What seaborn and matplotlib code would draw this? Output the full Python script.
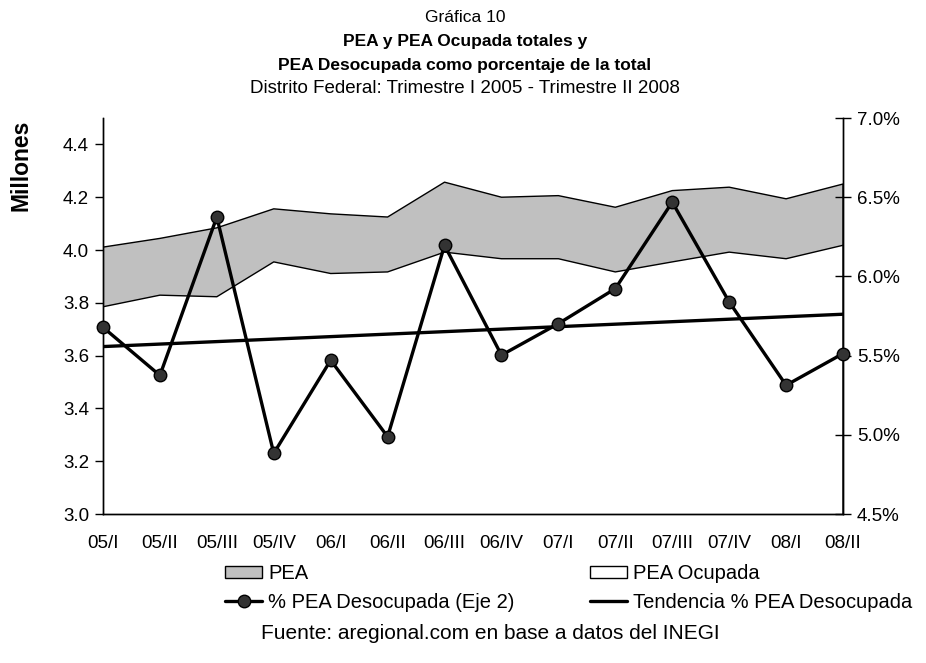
import numpy as np
import pandas as pd
import matplotlib
matplotlib.use('Agg')
import matplotlib.pyplot as plt
import seaborn as sns
from matplotlib.patches import Patch
from matplotlib.lines import Line2D
from matplotlib.ticker import FuncFormatter

# data
trimestres = ['05/I', '05/II', '05/III', '05/IV', '06/I', '06/II', '06/III',
              '06/IV', '07/I', '07/II', '07/III', '07/IV', '08/I', '08/II']
pea = [4.011, 4.044, 4.084, 4.156, 4.137, 4.125, 4.257,
       4.200, 4.206, 4.162, 4.225, 4.238, 4.194, 4.250]
pea_ocupada = [3.785, 3.829, 3.823, 3.955, 3.911, 3.917, 3.992,
               3.967, 3.967, 3.917, 3.955, 3.992, 3.967, 4.018]
pct_desocupada = [5.679, 5.375, 6.375, 4.883, 5.471, 4.988, 6.196,
                  5.503, 5.702, 5.923, 6.469, 5.839, 5.313, 5.513]

df = pd.DataFrame({'t': np.arange(len(trimestres)), 'pea': pea,
                   'ocupada': pea_ocupada, 'pct': pct_desocupada})

# linear trend of the unemployment share
coef = np.polyfit(df['t'], df['pct'], 1)
df['tendencia'] = np.polyval(coef, df['t'])

sns.set_style('white')
plt.rcParams['font.family'] = ['Liberation Sans', 'DejaVu Sans']
plt.rcParams['text.color'] = 'black'
plt.rcParams['xtick.color'] = 'black'
plt.rcParams['ytick.color'] = 'black'

fig = plt.figure(figsize=(9.26, 6.63), dpi=100)
ax = fig.add_axes([0.1112, 0.2247, 0.7992, 0.5973])

# stacked-area look: gray PEA, white PEA Ocupada in front
ax.fill_between(df['t'], 0, df['pea'], facecolor='#c0c0c0', edgecolor='black', linewidth=1.0, zorder=1)
ax.fill_between(df['t'], 0, df['ocupada'], facecolor='white', edgecolor='black', linewidth=1.0, zorder=2)

ax.set_xlim(0, 13)
ax.set_ylim(3.0, 4.5)
ax.set_yticks(np.arange(3.0, 4.41, 0.2))
ax.yaxis.set_major_formatter(FuncFormatter(lambda v, p: f'{v:.1f}'))
ax.set_xticks(df['t'])
ax.set_xticklabels(trimestres)
ax.tick_params(axis='both', labelsize=13.5, direction='out', length=6, width=1,
               colors='black', labelcolor='black', pad=4)
ax.tick_params(axis='x', pad=9)
ax.set_ylabel('')
ax.set_xlabel('')

ax2 = ax.twinx()
sns.lineplot(data=df, x='t', y='pct', ax=ax2, color='black', linewidth=2.4,
             marker='o', markersize=9, markerfacecolor='#333333', markeredgecolor='black',
             markeredgewidth=1.0, clip_on=False, zorder=5)
sns.lineplot(data=df, x='t', y='tendencia', ax=ax2, color='black', linewidth=2.4, zorder=4)
ax2.set_ylim(4.5, 7.0)
ax2.set_yticks(np.arange(4.5, 7.01, 0.5))
ax2.yaxis.set_major_formatter(FuncFormatter(lambda v, p: f'{v:.1f}%'))
ax2.tick_params(axis='y', labelsize=13.5, direction='inout', length=12, width=1,
                colors='black', labelcolor='black', pad=4)
ax2.set_ylabel('')
ax2.set_xlabel('')
ax2.set_xlim(0, 13)

for a in (ax, ax2):
    a.spines['top'].set_visible(False)
    for s in ('left', 'right', 'bottom'):
        a.spines[s].set_color('black')
        a.spines[s].set_linewidth(1.0)

# titles
cx = 0.502
fig.text(cx, 0.973, 'Gráfica 10', ha='center', va='center', fontsize=12.5)
fig.text(cx, 0.937, 'PEA y PEA Ocupada totales y', ha='center', va='center', fontsize=12.5, fontweight='bold')
fig.text(cx, 0.901, 'PEA Desocupada como porcentaje de la total', ha='center', va='center', fontsize=12.5, fontweight='bold')
fig.text(cx, 0.866, 'Distrito Federal: Trimestre I 2005 - Trimestre II 2008', ha='center', va='center', fontsize=13.5)
fig.text(0.023, 0.751, 'Millones', rotation=90, ha='center', va='center', fontsize=16.5, fontweight='bold')

col1 = [
    Patch(facecolor='#c0c0c0', edgecolor='black', linewidth=1.0, label='PEA'),
    Line2D([0], [0], color='black', linewidth=2.4, marker='o', markersize=9,
           markerfacecolor='#333333', markeredgecolor='black', label='% PEA Desocupada (Eje 2)'),
]
col2 = [
    Patch(facecolor='white', edgecolor='black', linewidth=1.0, label='PEA Ocupada'),
    Line2D([0], [0], color='black', linewidth=2.4, label='Tendencia % PEA Desocupada'),
]
leg_kw = dict(loc='center left', frameon=False, fontsize=14.5, handlelength=1.85, handleheight=0.6,
              handletextpad=0.3, labelspacing=0.5, borderaxespad=0, borderpad=0)
fig.legend(handles=col1, bbox_to_anchor=(0.243, 0.113), **leg_kw)
fig.legend(handles=col2, bbox_to_anchor=(0.637, 0.113), **leg_kw)

fig.text(0.529, 0.045, 'Fuente: aregional.com en base a datos del INEGI', ha='center', va='center', fontsize=15)

fig.savefig('out.png', dpi=100)
